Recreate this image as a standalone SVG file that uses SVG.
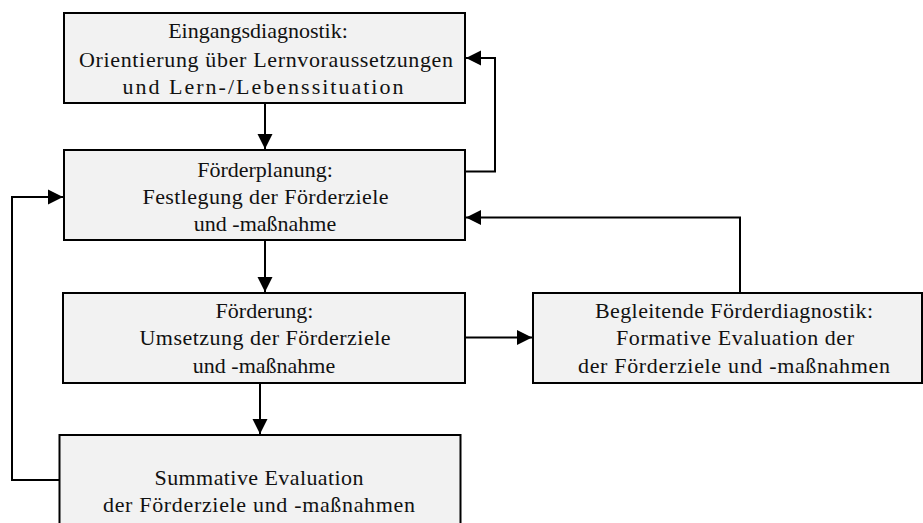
<svg xmlns="http://www.w3.org/2000/svg" width="923" height="523" viewBox="0 0 923 523">
<style>
.box{fill:#f2f2f2;stroke:#000;stroke-width:2}
.c{fill:none;stroke:#000;stroke-width:2;marker-end:url(#ah)}
text{font-family:'Liberation Serif','Times New Roman',serif;font-size:22px;fill:#111;text-anchor:middle}
</style>
<defs>
<marker id="ah" markerUnits="userSpaceOnUse" markerWidth="16" markerHeight="16" viewBox="0 0 16 16" refX="15" refY="8" orient="auto">
<path d="M0,0.5 L15,8 L0,15.5 Z" fill="#000"/>
</marker>
</defs>
<rect width="923" height="523" fill="#fff"/>
<g id="connectors">
<path class="c" d="M265,103 V149"/>
<path class="c" d="M465,171.5 H495 V58 H466"/>
<path class="c" d="M265,241 V292"/>
<path class="c" d="M740,293 V217.5 H466"/>
<path class="c" d="M465,337.5 H532"/>
<path class="c" d="M260,383 V434"/>
<path class="c" d="M59,480 H12 V197 H63"/>
</g>
<g id="n1">
<rect class="box" x="64" y="13" width="401" height="90"/>
<text x="258" y="38">Eingangsdiagnostik:</text>
<text x="266" y="66.5" textLength="374" lengthAdjust="spacing">Orientierung über Lernvoraussetzungen</text>
<text x="263" y="94" textLength="281" lengthAdjust="spacing">und Lern-/Lebenssituation</text>
</g>
<g id="n2">
<rect class="box" x="64" y="150" width="401" height="90"/>
<text x="265" y="176.5">Förderplanung:</text>
<text x="265.5" y="204" textLength="246" lengthAdjust="spacing">Festlegung der Förderziele</text>
<text x="265" y="230.5">und -maßnahme</text>
</g>
<g id="n3">
<rect class="box" x="63" y="293" width="402" height="90"/>
<text x="264.5" y="318">Förderung:</text>
<text x="265" y="345" textLength="251" lengthAdjust="spacing">Umsetzung der Förderziele</text>
<text x="264" y="372.5">und -maßnahme</text>
</g>
<g id="n4">
<rect class="box" x="533" y="293" width="389" height="90"/>
<text x="734" y="317.5" textLength="278" lengthAdjust="spacing">Begleitende Förderdiagnostik:</text>
<text x="735" y="345" textLength="238" lengthAdjust="spacing">Formative Evaluation der</text>
<text x="734" y="372.5" textLength="312" lengthAdjust="spacing">der Förderziele und -maßnahmen</text>
</g>
<g id="n5">
<rect class="box" x="59.5" y="435" width="401" height="100"/>
<text x="259" y="485" textLength="209" lengthAdjust="spacing">Summative Evaluation</text>
<text x="259" y="511.5" textLength="312" lengthAdjust="spacing">der Förderziele und -maßnahmen</text>
</g>
</svg>
